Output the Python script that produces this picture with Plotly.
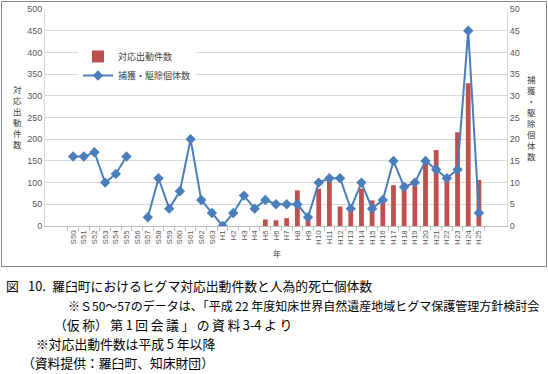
import plotly.graph_objects as go

years = ["S50", "S51", "S52", "S53", "S54", "S55", "S56", "S57", "S58", "S59", "S60", "S61", "S62", "S63",
         "H1", "H2", "H3", "H4", "H5", "H6", "H7", "H8", "H9", "H10", "H11", "H12", "H13", "H14", "H15",
         "H16", "H17", "H18", "H19", "H20", "H21", "H22", "H23", "H24", "H25"]

dispatch_counts = [None, None, None, None, None, None, None, None, None, None, None, None, None, None,
                   None, None, None, None, 15, 13, 18, 82, 15, 86, 108, 45, 42, 86, 59,
                   55, 94, 99, 92, 148, 175, 109, 216, 329, 106]

captured_removed = [16, 16, 17, 10, 12, 16, None, 2, 11, 4, 8, 20, 6, 3,
                    0, 3, 7, 4, 6, 5, 5, 5, 2, 10, 11, 11, 4, 10, 4,
                    6, 15, 9, 10, 15, 13, 11, 13, 45, 3]

left_title = "対応出動件数"
right_title = "捕獲・駆除個体数"
x_title = "年"
caption_lines = [
    "図\u2002 10.\u2002羅臼町におけるヒグマ対応出動件数と人為的死亡個体数",
    "※Ｓ50～57のデータは、「平成 22 年度知床世界自然遺産地域ヒグマ保護管理方針検討会",
    "（仮\u2009称）\u2009第\u20091\u2009回\u2009会\u2009議\u2009」\u2009の\u2009資\u2009料\u20093-4\u2009よ\u2009り",
    "※対応出動件数は平成 5 年以降",
    "（資料提供：羅臼町、知床財団）",
]

W, H = 548, 374
L, R, T, B = 45, 41, 9, 148


def fx(x):
    return x / W


def fy(y):
    return 1 - y / H


tick_font = dict(family="Liberation Sans, Arial, sans-serif", size=9, color="#595959")
xtick_font = dict(family="Liberation Sans, Arial, sans-serif", size=8, color="#595959")
jp_font = "Noto Sans CJK JP"

fig = go.Figure()
fig.add_trace(go.Bar(
    x=years, y=dispatch_counts, name="対応出動件数",
    marker=dict(color="#c0504d", line=dict(width=0)), width=0.45,
    legendgroup="a", yaxis="y",
))
fig.add_trace(go.Scatter(
    x=years, y=captured_removed, name="捕獲・駆除個体数",
    mode="lines+markers", line=dict(color="#4a7ebb", width=2),
    marker=dict(symbol="diamond", size=8, color="#4a7ebb"),
    connectgaps=False, legendgroup="b", yaxis="y2",
))

annotations = []
annotations.append(dict(
    x=fx(17), y=fy(117), xref="paper", yref="paper",
    text="<br>".join(left_title), showarrow=False,
    font=dict(family=jp_font, size=8.5, color="#404040"),
    xanchor="center", yanchor="middle", align="center",
))
annotations.append(dict(
    x=fx(531), y=fy(118), xref="paper", yref="paper",
    text="<br>".join(right_title), showarrow=False,
    font=dict(family=jp_font, size=8.5, color="#404040"),
    xanchor="center", yanchor="middle", align="center",
))
annotations.append(dict(
    x=fx(277), y=fy(253), xref="paper", yref="paper",
    text=x_title, showarrow=False,
    font=dict(family=jp_font, size=8, color="#404040"),
    xanchor="center", yanchor="middle",
))

cap_x = [4, 66, 52, 34, 20]
cap_y = [285, 305, 324, 343, 362]
cap_size = [12.8, 12.0, 12.8, 12.8, 12.8]
for t, cx, cy, cs in zip(caption_lines, cap_x, cap_y, cap_size):
    annotations.append(dict(
        x=fx(cx), y=fy(cy), xref="paper", yref="paper",
        text=t, showarrow=False,
        font=dict(family=jp_font, size=cs, color="#000000"),
        xanchor="left", yanchor="middle",
    ))

border = dict(type="rect", xref="paper", yref="paper",
              x0=fx(1.5), x1=fx(546.5), y0=fy(266.5), y1=fy(1.5),
              line=dict(color="#868686", width=1), fillcolor="rgba(0,0,0,0)", layer="above")

fig.update_layout(
    width=W, height=H,
    margin=dict(l=0, r=0, t=0, b=0, pad=0, autoexpand=False),
    paper_bgcolor="white", plot_bgcolor="white",
    xaxis=dict(
        domain=[fx(L), fx(W - R)],
        type="category", tickangle=-90, tickfont=xtick_font,
        tickmode="linear", dtick=1, automargin=False,
        showline=True, linecolor="#bfbfbf", linewidth=1,
        ticks="outside", tickson="boundaries", ticklen=4, tickcolor="#bfbfbf",
        showgrid=False, fixedrange=True,
    ),
    yaxis=dict(
        domain=[fy(H - B), fy(T)],
        range=[0, 500], dtick=50, tickfont=tick_font, automargin=False,
        showgrid=True, gridcolor="#d9d9d9", gridwidth=1,
        showline=True, linecolor="#d9d9d9", zeroline=False,
        ticks="", ticklen=0, fixedrange=True,
    ),
    yaxis2=dict(
        range=[0, 50], dtick=5, tickfont=tick_font, overlaying="y", side="right",
        automargin=False, fixedrange=True,
        showgrid=False, showline=True, linecolor="#d9d9d9", zeroline=False,
    ),
    legend=dict(
        x=fx(78), y=fy(42), xanchor="left", yanchor="top",
        bgcolor="white", font=dict(family=jp_font, size=9, color="#404040"),
        tracegroupgap=0, itemwidth=30,
    ),
    showlegend=True,
    annotations=annotations,
    shapes=[border],
)

fig.write_html("out.html", config={"displayModeBar": False},
               post_script="document.body.style.margin='0';")
